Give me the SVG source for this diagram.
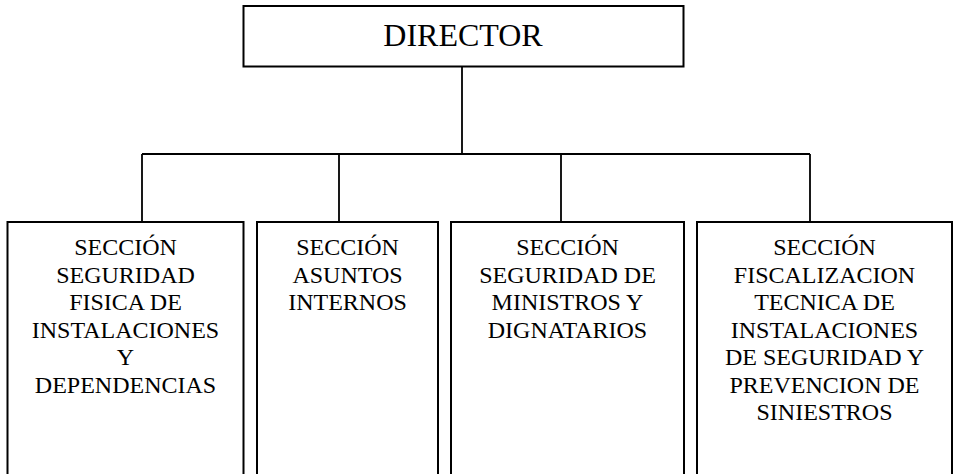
<svg xmlns="http://www.w3.org/2000/svg" width="954" height="474" viewBox="0 0 954 474">
<style>
.box{fill:#fff;stroke:#000;stroke-width:2}
.con{fill:none;stroke:#000;stroke-width:1.8}
text{font-family:"Liberation Serif","Times New Roman",serif;fill:#000;text-anchor:middle}
.t{font-size:24px}
.d{font-size:32px}
</style>
<rect width="954" height="474" fill="#fff"/>
<g id="connectors">
<path class="con" d="M462 67V154M142 154H810M142 154V222M339 154V222M561 154V222M810 154V222"/>
</g>
<g id="director">
<rect class="box" x="243.5" y="6" width="440" height="60.5"/>
<text class="d" x="463" y="46">DIRECTOR</text>
</g>
<g id="seccion1">
<rect class="box" x="7.5" y="222" width="236" height="260"/>
<text class="t" x="125.5" y="255">SECCIÓN</text>
<text class="t" x="125.5" y="282.5">SEGURIDAD</text>
<text class="t" x="125.5" y="310">FISICA DE</text>
<text class="t" x="125.5" y="337.5">INSTALACIONES</text>
<text class="t" x="125.5" y="365">Y</text>
<text class="t" x="125.5" y="392.5">DEPENDENCIAS</text>
</g>
<g id="seccion2">
<rect class="box" x="257" y="222" width="181" height="260"/>
<text class="t" x="347.5" y="255">SECCIÓN</text>
<text class="t" x="347.5" y="282.5">ASUNTOS</text>
<text class="t" x="347.5" y="310">INTERNOS</text>
</g>
<g id="seccion3">
<rect class="box" x="451" y="222" width="233" height="260"/>
<text class="t" x="567.5" y="255">SECCIÓN</text>
<text class="t" x="567.5" y="282.5">SEGURIDAD DE</text>
<text class="t" x="567.5" y="310">MINISTROS Y</text>
<text class="t" x="567.5" y="337.5">DIGNATARIOS</text>
</g>
<g id="seccion4">
<rect class="box" x="697" y="222" width="255" height="260"/>
<text class="t" x="824.5" y="255">SECCIÓN</text>
<text class="t" x="824.5" y="282.5">FISCALIZACION</text>
<text class="t" x="824.5" y="310">TECNICA DE</text>
<text class="t" x="824.5" y="337.5">INSTALACIONES</text>
<text class="t" x="824.5" y="365">DE SEGURIDAD Y</text>
<text class="t" x="824.5" y="392.5">PREVENCION DE</text>
<text class="t" x="824.5" y="420">SINIESTROS</text>
</g>
</svg>
